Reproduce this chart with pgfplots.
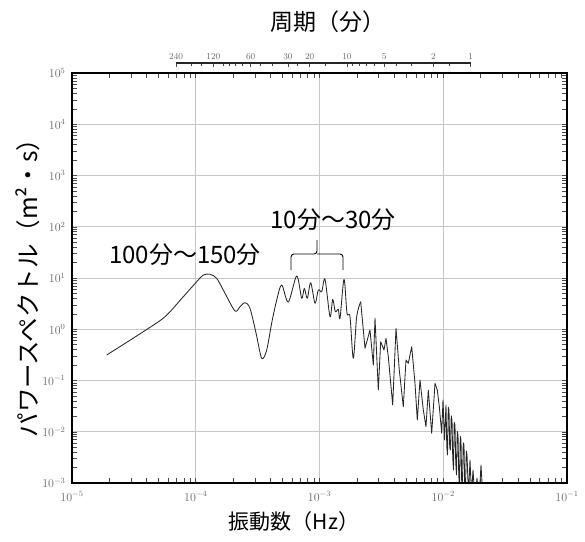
\documentclass[border=0pt]{standalone}
\usepackage{pgfplots}
\pgfplotsset{compat=1.18}
\usepackage{fontspec}
\newfontfamily\jp{Noto Sans CJK JP}
\pgfplotstableread{
f P
1.907e-5 0.3145
3.769e-5 0.896
5.642e-5 1.757
7.932e-5 4.316
1.018e-4 8.47
1.151e-4 11.44
1.304e-4 11.81
1.477e-4 9.86
1.724e-4 5.03
2.076e-4 2.27
2.279e-4 2.754
2.500e-4 3.296
2.744e-4 2.563
3.069e-4 0.845
3.412e-4 0.2712
3.744e-4 0.3937
4.109e-4 1.324
4.510e-4 3.722
4.950e-4 7.30
5.597e-4 3.402
6.543e-4 10.94
7.181e-4 4.017
7.538e-4 6.295
7.969e-4 4.017
8.490e-4 8.09
9.197e-4 3.208
9.779e-4 5.833
1.042e-3 5.404
1.108e-3 9.43
1.216e-3 1.757
1.278e-3 3.841
1.342e-3 2.199
1.419e-3 2.451
1.465e-3 1.636
1.578e-3 9.43
1.668e-3 2.047
1.764e-3 1.757
1.876e-3 0.2712
1.998e-3 1.757
2.152e-3 3.448
}\spectrumA
\pgfplotstableread{
f P
2.152e-3 3.448
2.332e-3 0.425
2.559e-3 0.967
2.722e-3 0.2006
2.809e-3 1.636
2.987e-3 0.0653
3.123e-3 0.5716
3.320e-3 0.3937
3.446e-3 0.666
3.597e-3 0.2913
3.904e-3 0.03327
4.151e-3 1.044
4.413e-3 0.1603
4.755e-3 0.03083
5.000e-3 0.2512
5.219e-3 0.2165
5.560e-3 0.4565
5.911e-3 0.0882
6.170e-3 0.01696
6.488e-3 0.1023
6.899e-3 0.02657
7.254e-3 0.01254
7.572e-3 0.0653
8.066e-3 0.00933
8.577e-3 0.0882
8.953e-3 0.0653
9.294e-3 0.03083
9.716e-3 0.00933
9.954e-3 0.04164
1.0235e-2 0.006902
1.0525e-2 0.03327
1.068e-2 0.0052
1.082e-2 0.003518
1.098e-2 0.0301
1.113e-2 0.02657
1.128e-2 0.0049
1.144e-2 0.004405
1.160e-2 0.0205
1.177e-2 0.01696
1.193e-2 0.0031
1.210e-2 0.001794
1.226e-2 0.0152
1.244e-2 0.01354
1.262e-2 0.0024
1.280e-2 0.001433
1.298e-2 0.0102
1.316e-2 0.008643
1.334e-2 0.0015
1.353e-2 0.00073
1.372e-2 0.0081
1.391e-2 0.006902
1.411e-2 0.0009
1.431e-2 0.001144
1.451e-2 0.0061
1.471e-2 0.005515
1.492e-2 0.0008
1.513e-2 0.00073
1.535e-2 0.0042
1.556e-2 0.003518
1.600e-2 0.000583
1.645e-2 0.002811
1.692e-2 0.000583
1.740e-2 0.001794
1.806e-2 0.000466
1.874e-2 0.001252
1.945e-2 0.000466
2.019e-2 0.002244
2.095e-2 0.000466
}\spectrumB
\begin{document}
\begin{tikzpicture}
\useasboundingbox (-72pt,-58pt) rectangle (513pt,483pt);
\begin{axis}[
  at={(0pt,0pt)}, anchor=south west,
  scale only axis, width=495pt, height=410pt,
  xmode=log, ymode=log,
  xmin=1e-5, xmax=1e-1, ymin=1e-3, ymax=1e5,
  xtick={1e-5,1e-4,1e-3,1e-2,1e-1},
  ytick={1e-3,1e-2,1e-1,1,1e1,1e2,1e3,1e4,1e5},
  grid=major,
  major grid style={gray!45, line width=0.7pt},
  tick align=inside,
  major tick length=0pt, minor tick length=5pt,
  every tick/.style={black!70, line width=0.5pt},
  axis line style={draw=none},
  tick label style={font=\fontsize{11.5}{12}\selectfont, text=black!60},
  xticklabel style={yshift=-5pt},
  yticklabel style={xshift=-3pt},
]
\addplot[black!85, line width=0.85pt, line join=round, mark=none, smooth, tension=0.5] table[x=f, y=P] {\spectrumA};
\addplot[black!85, line width=0.85pt, line join=round, mark=none] table[x=f, y=P] {\spectrumB};
\end{axis}
\begin{axis}[
  at={(0pt,419pt)}, anchor=south west,
  scale only axis, width=495pt, height=1pt,
  xmode=log, xmin=1e-5, xmax=1e-1, ymin=0, ymax=1,
  axis x line*=top, hide y axis,
  x axis line style={draw=none},
  xtick={6.9444e-5,1.3889e-4,2.7778e-4,5.5556e-4,8.3333e-4,1.6667e-3,3.3333e-3,8.3333e-3,1.6667e-2},
  xticklabels={240,120,60,30,20,10,5,2,1},
  minor xtick={9.2593e-5,1.1111e-4,1.6667e-4,1.8519e-4,2.0833e-4,2.3810e-4,3.3333e-4,4.1667e-4,6.6667e-4,1.1111e-3,1.8519e-3,2.0833e-3,2.3810e-3,2.7778e-3,4.1667e-3,5.5556e-3,1.1111e-2},
  xtick align=inside,
  major tick length=4pt, minor tick length=3pt,
  every tick/.style={black!70, line width=0.5pt},
  tick label style={font=\fontsize{9}{10}\selectfont, text=black!60},
  clip=false,
]
\addplot[black!85, line width=1.3pt, mark=none] coordinates {(6.9444e-5,1) (1.6667e-2,1)};
\end{axis}
% axis frame
\draw[black, line width=2.2pt] (0pt,0pt) -- (495pt,0pt) -- (495pt,410pt) -- (0pt,410pt) -- cycle;
% annotations
\draw[black, line width=0.9pt, rounded corners=3pt] (219pt,213pt) |- (245pt,229pt) -- (245pt,243pt);
\draw[black, line width=0.9pt, rounded corners=3pt] (271pt,213pt) |- (245pt,229pt);
\node[font=\jp\fontsize{24}{26}\selectfont] at (113pt,228pt) {100分～150分};
\node[font=\jp\fontsize{24}{26}\selectfont] at (261pt,263pt) {10分～30分};
\node[font=\jp\fontsize{23}{25}\selectfont] at (256pt,461pt) {周期（分）};
\node[font=\jp\fontsize{21}{23}\selectfont] at (222pt,-39pt) {振動数（Hz）};
\node[font=\jp\fontsize{24.5}{26}\selectfont, rotate=90] at (-44pt,201pt) {パワースペクトル（m²・s）};
\end{tikzpicture}
\end{document}
